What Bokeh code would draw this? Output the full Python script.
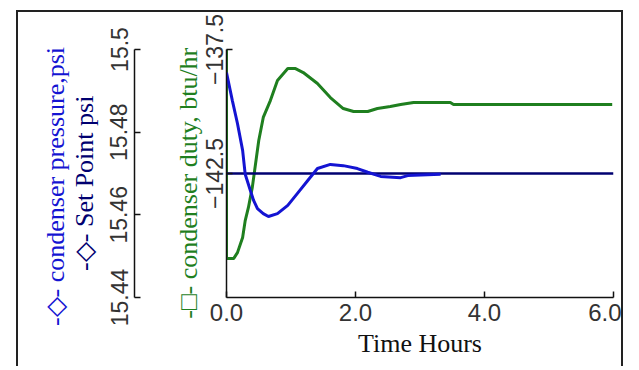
from bokeh.plotting import figure
from bokeh.models import Range1d, LinearAxis, FixedTicker, NumeralTickFormatter
from bokeh.embed import file_html
from bokeh.resources import INLINE

# ---- data ----
time_pressure = [0.00, 0.09, 0.17, 0.25, 0.29, 0.37, 0.42, 0.48, 0.57, 0.65, 0.79, 0.95,
                 1.10, 1.26, 1.41, 1.61, 1.81, 2.03, 2.19, 2.39, 2.70, 2.81, 3.32]
pressure = [15.4944, 15.4877, 15.4821, 15.4756, 15.4698, 15.4659, 15.4635, 15.4615, 15.4603,
            15.4596, 15.4603, 15.4623, 15.4652, 15.4683, 15.4712, 15.4722, 15.4719, 15.4712,
            15.4703, 15.4693, 15.4690, 15.4695, 15.4698]

time_duty = [0.00, 0.00, 0.11, 0.17, 0.25, 0.29, 0.34, 0.40, 0.50, 0.57, 0.68, 0.79, 0.95,
             1.07, 1.19, 1.41, 1.61, 1.81, 1.97, 2.19, 2.34, 2.54, 2.70, 2.90, 3.47, 3.52, 5.98]
duty = [-137.50, -145.93, -145.93, -145.69, -145.08, -144.40, -143.87, -143.06, -141.17,
        -140.24, -139.56, -138.75, -138.27, -138.27, -138.43, -138.87, -139.44, -139.88,
        -140.00, -140.00, -139.88, -139.80, -139.72, -139.64, -139.64, -139.72, -139.72]

time_setpoint = [0.0, 6.0]
setpoint = [15.47, 15.47]

x_ticks = [0, 2, 4, 6]
duty_ticks = [-142.5, -137.5]
pressure_ticks = [15.44, 15.46, 15.48, 15.5]
pressure_tick_labels = ["15.44", "15.46", "15.48", "15.5"]

x_label = "Time Hours"
duty_label = "-\u25a1- condenser duty, btu/hr"
setpoint_label = "-\u25c7- Set Point psi"
pressure_label = "-\u25c7- condenser pressure,psi"

# ---- styles ----
GREEN = "#1f7f1f"
BLUE = "#1414d2"
NAVY = "#000070"
SANS = "Liberation Sans"
SERIF = "Liberation Serif"
YTICK_FS = "23px"
XTICK_FS = "24px"
LABEL_FS = "26px"
NB = "\u00a0"

p = figure(width=607, height=356, x_range=Range1d(0, 6), y_range=Range1d(-147.5, -137.5),
           output_backend="svg", toolbar_location=None,
           min_border_left=208, min_border_top=37, min_border_right=12, min_border_bottom=71)
p.extra_y_ranges = {"p": Range1d(15.44, 15.5)}
p.grid.visible = False
p.outline_line_color = None
p.margin = (10, 0, 0, 16)
p.styles = {"border-top": "2px solid #222", "border-left": "2px solid #222",
            "border-right": "2px solid #222"}

p.line(time_duty, duty, line_color=GREEN, line_width=3)
p.line(time_setpoint, setpoint, y_range_name="p", line_color=NAVY, line_width=2.5)
p.line(time_pressure, pressure, y_range_name="p", line_color=BLUE, line_width=3)


def style_axis(ax, color_label, tick_fs):
    ax.axis_line_color = "#111111"
    ax.axis_line_width = 1.5
    ax.major_tick_line_color = "#111111"
    ax.major_tick_line_width = 1.5
    ax.major_tick_in = 6
    ax.major_tick_out = 0
    ax.minor_tick_line_color = None
    ax.major_label_text_font = SANS
    ax.major_label_text_font_size = tick_fs
    ax.major_label_text_color = "#333333"
    ax.axis_label_text_font = SERIF
    ax.axis_label_text_font_size = LABEL_FS
    ax.axis_label_text_font_style = "normal"
    ax.axis_label_text_color = color_label


# x axis
xa = p.xaxis[0]
style_axis(xa, "#111111", XTICK_FS)
xa.ticker = FixedTicker(ticks=x_ticks)
xa.formatter = NumeralTickFormatter(format="0.0")
xa.axis_label = x_label
xa.major_label_standoff = 6
xa.axis_label_standoff = 5

# duty axis (inner left)
ya = p.yaxis[0]
style_axis(ya, GREEN, YTICK_FS)
ya.ticker = FixedTicker(ticks=duty_ticks)
ya.major_label_orientation = "vertical"
ya.axis_label = duty_label + NB * 3
ya.major_label_standoff = 4
ya.axis_label_standoff = 0

# spacer between the two axis groups
spacer = LinearAxis(y_range_name="p", ticker=FixedTicker(ticks=[]), axis_line_color=None,
                    axis_label="x", axis_label_text_alpha=0, axis_label_text_font_size="25px",
                    minor_tick_line_color=None, major_tick_line_color=None)
p.add_layout(spacer, "left")

# pressure axis
pa = LinearAxis(y_range_name="p", ticker=FixedTicker(ticks=pressure_ticks))
style_axis(pa, NAVY, YTICK_FS)
pa.major_label_overrides = dict(zip(pressure_ticks, pressure_tick_labels))
pa.major_label_orientation = "vertical"
pa.axis_label = setpoint_label + NB * 3
pa.major_label_standoff = 7
pa.axis_label_standoff = 9
p.add_layout(pa, "left")

# label-only axis for condenser pressure
la = LinearAxis(y_range_name="p", ticker=FixedTicker(ticks=[]))
style_axis(la, BLUE, YTICK_FS)
la.axis_line_color = None
la.axis_label = pressure_label + NB * 4
la.axis_label_standoff = -3
p.add_layout(la, "left")

open("out.html", "w").write(file_html(p, INLINE))
